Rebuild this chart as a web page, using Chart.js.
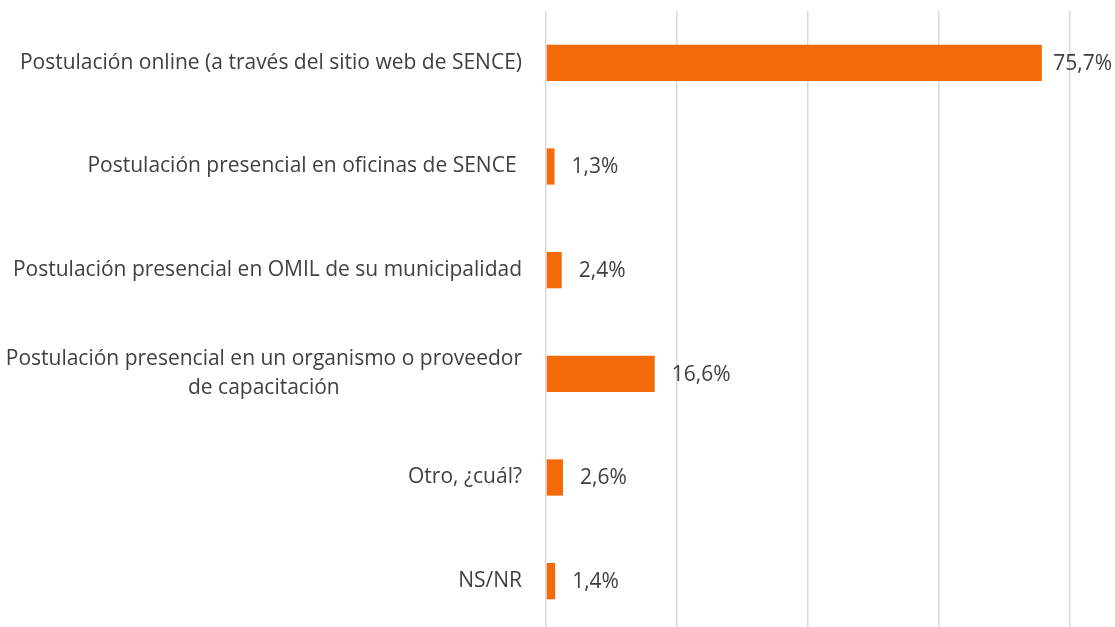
<!DOCTYPE html>
<html lang="es">
<head>
<meta charset="UTF-8">
<title>Postulación</title>
<script src="https://cdn.jsdelivr.net/npm/chart.js@4"></script>
<style>
  html, body { margin: 0; padding: 0; background: #fff; overflow: hidden; }
  #wrap { position: relative; width: 1115px; height: 633px; }
</style>
</head>
<body>
<div id="wrap"><canvas id="chart"></canvas></div>
<script>
const categories = [
  ['Postulación online (a través del sitio web de SENCE)'],
  ['Postulación presencial en oficinas de SENCE '],
  ['Postulación presencial en OMIL de su municipalidad'],
  ['Postulación presencial en un organismo o proveedor', 'de capacitación'],
  ['Otro, ¿cuál?'],
  ['NS/NR']
]
const values = [75.7, 1.3, 2.4, 16.6, 2.6, 1.4]
const valueLabels = ['75,7%', '1,3%', '2,4%', '16,6%', '2,6%', '1,4%']

const FONT = '21px "Open Sans", sans-serif'
const TEXT = '#404040'

// category labels: block right aligned, lines centred inside the block
const catLabels = {
  id: 'catLabels',
  afterDraw(chart) {
    const ctx = chart.ctx
    const y = chart.scales.y
    const right = chart.chartArea.left - 24
    const lh = 29
    ctx.save()
    ctx.font = FONT
    ctx.fillStyle = TEXT
    ctx.textAlign = 'center'
    ctx.textBaseline = 'middle'
    categories.forEach((lines, i) => {
      const cy = y.getPixelForTick(i)
      const w = Math.max(...lines.map(l => ctx.measureText(l).width))
      const cx = right - w / 2
      lines.forEach((l, j) => {
        const lw = ctx.measureText(l).width
        const tw = ctx.measureText(l.trimEnd()).width
        ctx.fillText(l.trimEnd(), cx - (lw - tw) / 2, cy + (j - (lines.length - 1) / 2) * lh)
      })
    })
    ctx.restore()
  }
}

// value labels after the bar end, kept inside the canvas
const valLabels = {
  id: 'valLabels',
  afterDatasetsDraw(chart) {
    const ctx = chart.ctx
    const meta = chart.getDatasetMeta(0)
    ctx.save()
    ctx.font = FONT
    ctx.fillStyle = TEXT
    ctx.textAlign = 'left'
    ctx.textBaseline = 'middle'
    meta.data.forEach((bar, i) => {
      const w = ctx.measureText(valueLabels[i]).width
      const x = Math.min(bar.x + 17, chart.width - w - 3)
      ctx.fillText(valueLabels[i], x, bar.y + 1)
    })
    ctx.restore()
  }
}

new Chart(document.getElementById('chart'), {
  type: 'bar',
  data: {
    labels: categories.map(c => c.join(' ')),
    datasets: [{
      data: values,
      backgroundColor: '#F36B08',
      borderWidth: 0,
      barPercentage: 0.7,
      categoryPercentage: 0.5
    }]
  },
  options: {
    indexAxis: 'y',
    responsive: true,
    maintainAspectRatio: false,
    animation: false,
    layout: { padding: { top: 11, right: 45, bottom: 0, left: 0 } },
    plugins: {
      legend: { display: false },
      tooltip: { enabled: false }
    },
    scales: {
      x: {
        min: 0,
        max: 80,
        ticks: { display: false, stepSize: 20 },
        grid: { color: '#D9D9D9', lineWidth: 1.5, drawTicks: false },
        border: { display: false }
      },
      y: {
        ticks: { display: false },
        grid: { display: false },
        border: { display: false },
        afterFit(scale) { scale.width = 546 }
      }
    }
  },
  plugins: [catLabels, valLabels]
})
</script>
</body>
</html>
